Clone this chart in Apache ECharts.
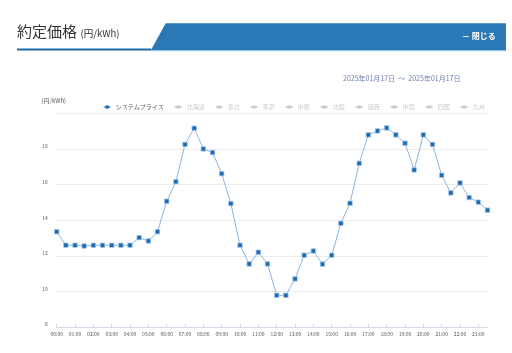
<!DOCTYPE html>
<html>
<head>
<meta charset="utf-8">
<script src="https://cdn.jsdelivr.net/npm/echarts@6/dist/echarts.min.js"></script>
<style>
html,body{margin:0;padding:0;background:#fff;}
#c{width:512px;height:353px;}
</style>
</head>
<body>
<div id="c"></div>
<script>
var categories = ["00:00","00:30","01:00","01:30","02:00","02:30","03:00","03:30","04:00","04:30","05:00","05:30",
"06:00","06:30","07:00","07:30","08:00","08:30","09:00","09:30","10:00","10:30","11:00","11:30",
"12:00","12:30","13:00","13:30","14:00","14:30","15:00","15:30","16:00","16:30","17:00","17:30",
"18:00","18:30","19:00","19:30","20:00","20:30","21:00","21:30","22:00","22:30","23:00","23:30"];
var systemPrice = [13.35,12.59,12.59,12.55,12.59,12.59,12.59,12.59,12.59,13.02,12.83,13.35,
15.06,16.16,18.25,19.16,18.00,17.80,16.61,14.93,12.59,11.54,12.20,11.54,
9.78,9.78,10.70,12.03,12.27,11.53,12.03,13.82,14.95,17.19,18.79,19.01,
19.18,18.79,18.32,16.82,18.79,18.25,16.52,15.53,16.09,15.27,15.01,14.56];
var legendNames = ["システムプライス","北海道","東北","東京","中部","北陸","関西","中国","四国","九州"];
var yTicks = {min: 8, max: 20, interval: 2};
var titleText = "約定価格";
var unitText = "(円/kWh)";
var dateText = "2025年01月17日  〜  2025年01月17日";

var FONT = "'Noto Sans CJK JP','Noto Sans',sans-serif";
var chart = echarts.init(document.getElementById('c'), null, {renderer: 'canvas'});

var selected = {};
legendNames.forEach(function(n, i){ selected[n] = (i === 0); });

var series = legendNames.map(function(n, i){
  return {
    name: n,
    type: 'line',
    data: i === 0 ? systemPrice : [],
    symbol: 'rect',
    symbolSize: 4.5,
    lineStyle: {color: '#8fb4dc', width: 1},
    itemStyle: {color: '#1b69b0', borderColor: '#a9c9ea', borderWidth: 0.8},
    animation: false
  };
});

chart.setOption({
  animation: false,
  textStyle: {fontFamily: FONT},
  grid: {left: 56.7, right: 24.5, top: 113.3, bottom: 26, containLabel: false},
  legend: {
    data: legendNames,
    selected: selected,
    left: 97.7,
    top: 99,
    itemWidth: 7,
    itemHeight: 4,
    itemGap: 10,
    inactiveColor: '#cccccc',
    inactiveBorderColor: '#cccccc',
    inactiveBorderWidth: 0,
    itemStyle: {borderWidth: 0},
    textStyle: {fontSize: 6, color: '#555', fontFamily: FONT}
  },
  xAxis: {
    type: 'category',
    data: categories,
    boundaryGap: false,
    axisLine: {lineStyle: {color: '#d3dbea', width: 1}},
    axisTick: {show: true, inside: true, length: 3, interval: 1, lineStyle: {color: '#d3dbea'}},
    axisLabel: {interval: 1, fontSize: 5, color: '#555', margin: 5, fontFamily: FONT},
    splitLine: {show: false}
  },
  yAxis: {
    type: 'value',
    min: yTicks.min,
    max: yTicks.max,
    interval: yTicks.interval,
    axisLine: {show: false},
    axisTick: {show: false},
    axisLabel: {fontSize: 5, color: '#555', margin: 9, showMaxLabel: false, verticalAlign: 'bottom', fontFamily: FONT},
    splitLine: {lineStyle: {color: '#ececec', width: 1}}
  },
  series: series,
  graphic: [
    {type: 'polygon', shape: {points: [[165.7,23.3],[506,23.3],[506,50.5],[150.7,50.5]]}, style: {fill: '#2a78b6'}, silent: true},
    {type: 'rect', shape: {x: 17, y: 48.6, width: 134, height: 2}, style: {fill: '#1c68ab'}, silent: true},
    {type: 'rect', shape: {x: 150.7, y: 50.5, width: 355.3, height: 0.8}, style: {fill: '#9cc3e3'}, silent: true},
    {type: 'text', left: 17, top: 24, style: {text: titleText, font: '15px ' + FONT, fill: '#333'}, silent: true},
    {type: 'text', left: 80.5, top: 29, style: {text: unitText, font: '9.5px ' + FONT, fill: '#333'}, silent: true},
    {type: 'text', left: 462, top: 32, style: {text: '－ 閉じる', font: 'bold 8px ' + FONT, fill: '#ffffff'}, silent: true},
    {type: 'text', left: 343, top: 74.5, style: {text: dateText, font: '7px ' + FONT, fill: '#6f80b2'}, silent: true},
    {type: 'text', left: 41.5, top: 97.5, style: {text: unitText, font: '6px ' + FONT, fill: '#555'}, silent: true}
  ]
});
</script>
</body>
</html>
